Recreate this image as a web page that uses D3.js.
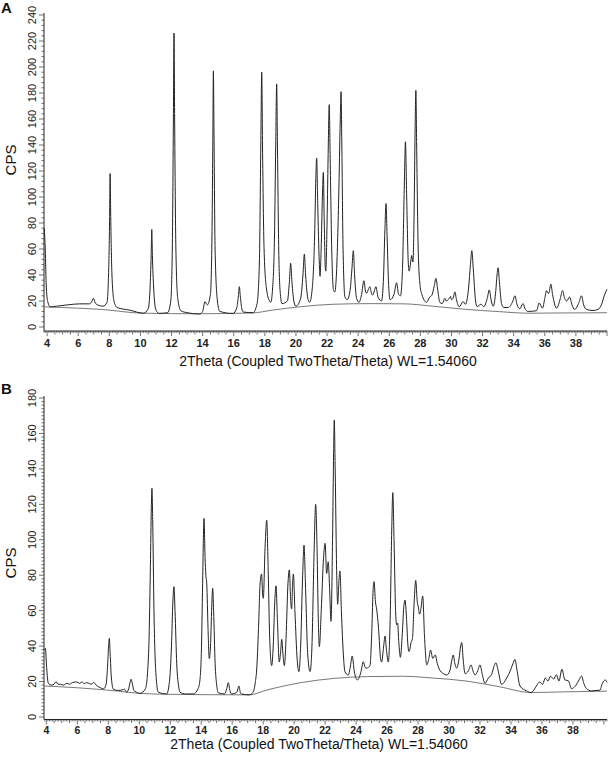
<!DOCTYPE html>
<html><head><meta charset="utf-8">
<script src="https://cdn.jsdelivr.net/npm/d3@7"></script>
<style>body{margin:0;background:#fff}svg{display:block}</style>
</head><body>
<svg id="c" width="609" height="758"></svg>
<script>
// ---------- data ----------
const xTicks = [4,6,8,10,12,14,16,18,20,22,24,26,28,30,32,34,36,38];
const yTicksA = [0,20,40,60,80,100,120,140,160,180,200,220,240];
const yTicksB = [0,20,40,60,80,100,120,140,160,180];
const xTitle = "2Theta (Coupled TwoTheta/Theta) WL=1.54060";

const patternA = [
[3.82,76],[3.88,60],[3.95,30],[4.05,19],[4.2,15.5],[4.6,16],[5.3,17],[6.1,17.8],[6.7,17.8],[6.85,19],[6.98,22],[7.1,18.5],[7.25,17],[7.6,16],[7.85,19],[7.95,40],[8.02,85],[8.05,118],[8.09,85],[8.17,40],[8.3,20],[8.5,15],[9.3,13],[10.2,10.6],[10.5,14],[10.62,30],[10.69,55],[10.73,75],[10.77,55],[10.85,30],[11.0,13],[11.2,10.5],[11.75,11],[11.95,20],[12.05,60],[12.12,160],[12.16,226],[12.2,160],[12.28,60],[12.4,22],[12.6,12.5],[13.0,11],[13.8,10],[14.0,12],[14.15,19.5],[14.3,17],[14.5,25],[14.6,70],[14.66,150],[14.69,197],[14.73,150],[14.8,60],[14.95,20],[15.1,12],[15.95,10.4],[16.2,15],[16.3,24],[16.36,31],[16.42,24],[16.52,14],[16.62,11.5],[17.24,11],[17.5,18],[17.65,50],[17.74,140],[17.8,196],[17.85,140],[17.95,60],[18.1,30],[18.3,20],[18.38,19],[18.5,30],[18.62,70],[18.7,140],[18.76,187],[18.81,140],[18.9,55],[19.0,25],[19.1,18],[19.45,20],[19.58,35],[19.66,49],[19.74,35],[19.88,19],[20.0,16],[20.3,22],[20.45,40],[20.54,56],[20.62,40],[20.78,21],[20.88,19],[21.05,30],[21.2,70],[21.28,115],[21.33,130],[21.4,95],[21.5,50],[21.55,39],[21.62,60],[21.7,100],[21.76,119],[21.82,80],[21.89,45],[21.92,43],[22.0,80],[22.08,140],[22.14,171],[22.2,130],[22.3,60],[22.42,28],[22.5,27],[22.6,40],[22.75,100],[22.85,160],[22.9,181],[22.95,140],[23.03,60],[23.15,23],[23.3,21],[23.5,30],[23.6,45],[23.69,58.7],[23.77,40],[23.9,22],[24.05,19],[24.22,25],[24.37,35.6],[24.48,27],[24.55,26],[24.66,29],[24.76,31],[24.85,26],[24.93,24.5],[25.05,28],[25.14,31],[25.28,23],[25.5,20],[25.62,35],[25.72,75],[25.79,95],[25.86,70],[25.96,32],[26.05,21],[26.3,25],[26.47,34],[26.6,25],[26.72,24],[26.85,45],[26.97,110],[27.04,142.5],[27.12,100],[27.22,50],[27.28,43],[27.4,52],[27.44,55],[27.52,50],[27.6,90],[27.66,150],[27.71,182],[27.76,140],[27.86,60],[27.98,32],[28.1,25],[28.4,19],[28.6,23],[28.72,24],[28.9,32],[29.0,37.4],[29.1,30],[29.25,19],[29.4,18],[29.58,22],[29.67,20],[29.75,20.5],[29.85,22],[29.94,23.5],[30.0,21],[30.1,22],[30.22,27],[30.32,21],[30.5,15.5],[30.75,19.5],[30.9,17.5],[31.1,30],[31.22,48],[31.31,58.7],[31.4,45],[31.55,20],[31.65,15.7],[31.89,17.5],[32.08,15.7],[32.3,22],[32.43,28.5],[32.56,20],[32.69,16],[32.85,28],[32.93,40],[33.0,45.6],[33.08,35],[33.22,18],[33.37,15],[33.65,15],[33.95,20],[34.08,24],[34.22,17],[34.4,14],[34.6,18],[34.75,13.5],[34.93,12],[35.47,12.5],[35.64,18.5],[35.85,14.5],[36.0,22],[36.11,28],[36.2,26],[36.26,26],[36.39,33],[36.5,25],[36.76,14.5],[37.0,22],[37.14,28],[37.28,22],[37.4,20],[37.6,23],[37.75,17],[37.92,13.5],[38.2,19],[38.36,24],[38.5,17],[38.68,13.5],[39.1,12.7],[39.42,13.5],[39.64,17],[39.85,25],[40.0,29]
];
const backgroundA = [
[3.85,15.5],[5,15],[7.5,13.5],[10.2,10.6],[13.8,10.2],[17.2,10.8],[18.5,13],[20.3,15.6],[22.4,17.5],[25,18],[27,17.8],[28.8,16],[30.9,13.6],[33.1,11.8],[34.93,10.6],[37,10.8],[39.1,10.9],[40,11]
];
const patternB = [
[3.85,37.8],[3.94,38.7],[4.02,28],[4.13,19],[4.35,18],[4.5,18.5],[4.63,20],[4.75,18.5],[4.9,18.5],[5.1,18],[5.32,19],[5.5,18.5],[5.7,19.5],[5.96,19.8],[6.15,19],[6.3,19.8],[6.45,18.8],[6.6,19.4],[6.8,18.8],[6.93,18.5],[7.05,19.5],[7.25,17.7],[7.5,16.5],[7.68,15.8],[7.85,18],[7.95,28],[8.02,40],[8.07,44.4],[8.12,36],[8.2,22],[8.33,15.7],[8.6,15],[8.97,15.4],[9.03,15.8],[9.18,14],[9.32,16],[9.42,20],[9.47,21.3],[9.55,19],[9.65,15],[9.73,14.5],[10.05,13.3],[10.4,16],[10.6,35],[10.72,85],[10.78,118],[10.82,129],[10.87,110],[10.95,60],[11.07,25],[11.23,14],[11.77,13],[11.95,20],[12.08,40],[12.17,65],[12.24,73.5],[12.31,60],[12.42,30],[12.55,17],[12.63,14],[13.0,13],[13.49,13],[13.8,16],[13.92,21],[14.02,40],[14.1,80],[14.18,112],[14.25,90],[14.3,80],[14.36,75],[14.44,50],[14.52,33],[14.6,40],[14.68,62],[14.74,72.6],[14.8,60],[14.9,30],[15.0,18],[15.1,13.7],[15.5,13],[15.65,16],[15.75,19.4],[15.85,15],[15.97,13],[16.3,14],[16.44,17.5],[16.52,14],[16.6,13],[17.1,12.5],[17.35,14],[17.5,20],[17.58,26.5],[17.7,50],[17.8,75],[17.9,80.7],[17.96,70],[18.01,67],[18.12,95],[18.23,111],[18.32,85],[18.42,45],[18.55,29],[18.65,40],[18.75,65],[18.83,74],[18.92,55],[19.04,31],[19.12,36],[19.2,43.8],[19.28,35],[19.37,29],[19.48,45],[19.6,75],[19.69,83],[19.78,65],[19.84,61],[19.9,75],[19.95,80.7],[20.05,60],[20.2,32],[20.31,25.6],[20.42,40],[20.55,80],[20.64,97],[20.73,75],[20.88,35],[21.03,25.6],[21.15,40],[21.28,90],[21.39,120],[21.48,95],[21.56,55],[21.63,39.7],[21.75,60],[21.9,90],[22.0,98],[22.1,81],[22.2,87.6],[22.3,70],[22.38,54],[22.48,100],[22.55,150],[22.59,167.6],[22.65,140],[22.75,80],[22.81,63.6],[22.9,78],[22.96,82.4],[23.05,60],[23.18,35],[23.28,25.6],[23.5,23.7],[23.62,28],[23.75,34.4],[23.88,26],[24.08,20.9],[24.3,25],[24.47,31.2],[24.58,28],[24.68,27.6],[24.8,28],[24.9,29],[25.02,50],[25.1,72],[25.16,76.4],[25.25,65],[25.33,60.8],[25.45,50],[25.58,33],[25.65,31],[25.78,40],[25.87,45.7],[25.96,38],[26.08,31],[26.2,55],[26.3,105],[26.37,126.6],[26.45,100],[26.55,60],[26.62,52],[26.68,53],[26.76,42],[26.86,33.7],[26.97,45],[27.08,62],[27.16,66],[27.26,55],[27.35,40],[27.42,36.9],[27.55,42],[27.64,44.4],[27.75,65],[27.85,77],[27.95,65],[28.02,62],[28.1,58],[28.2,62],[28.3,68.3],[28.42,45],[28.56,29.4],[28.7,33],[28.81,37.8],[28.95,33],[29.11,35],[29.25,30],[29.37,27],[29.63,24.5],[29.85,23.7],[30.05,26],[30.18,32],[30.27,35],[30.38,30],[30.49,27.6],[30.65,33],[30.75,40],[30.82,42],[30.92,32],[31.03,24.5],[31.25,26],[31.42,29.4],[31.55,26],[31.68,23.7],[31.85,26],[32.0,29.4],[32.15,24],[32.32,19],[32.54,22],[32.75,24],[32.92,29],[33.03,30.6],[33.15,27],[33.4,18.4],[33.72,22],[33.95,26],[34.12,30],[34.26,32.5],[34.38,27],[34.58,17.5],[35.01,14.7],[35.29,13.8],[35.5,15.5],[35.64,17.5],[35.86,19.8],[36.03,18.4],[36.22,22],[36.39,20.3],[36.55,23],[36.76,21.4],[36.93,23.9],[37.1,20.3],[37.29,27],[37.48,20.9],[37.7,20.5],[37.91,16],[38.2,18],[38.4,21],[38.56,23.1],[38.7,19],[38.88,16],[39.2,14.7],[39.5,15],[39.74,15.1],[39.9,19],[40.1,20.9],[40.2,19.5]
];
const backgroundB = [
[3.9,17.5],[6,16.5],[8.54,14.7],[10.05,13.3],[12,12.8],[17.1,12.5],[18.23,15.2],[20.45,19.4],[22.6,21.8],[24.75,22.8],[27,23],[28.95,22],[31.1,20.3],[33.25,17.1],[35.29,13.8],[37.5,14.2],[39.5,14.5],[40.2,14.6]
];

// ---------- drawing ----------
const svg = d3.select("#c");
const FONT = "Liberation Sans, Arial, sans-serif";

function panel(cfg){
  const g = svg.append("g");
  const x = d3.scaleLinear().domain(cfg.xDomain).range([44, 607]);
  const y = d3.scaleLinear().domain([0, cfg.yMax]).range([cfg.y0, cfg.yTop]);
  const axisY = cfg.axisY;

  // x axis
  g.append("line").attr("x1",44).attr("x2",607).attr("y1",axisY).attr("y2",axisY)
    .attr("stroke","#222").attr("stroke-width",1);
  const fine = d3.range(Math.ceil(cfg.xDomain[0]*10), Math.floor(cfg.xDomain[1]*10)+1).map(d=>d/10);
  g.selectAll(null).data(fine).enter().append("line")
    .attr("x1",d=>x(d)).attr("x2",d=>x(d)).attr("y1",axisY)
    .attr("y2",d=> (Math.abs(d%2)<1e-6 ? axisY+5 : (Math.abs((d*2)%1)<1e-6 ? axisY+3.5 : axisY+1.8)))
    .attr("stroke","#333").attr("stroke-width",0.7);
  g.selectAll(null).data(xTicks).enter().append("text")
    .attr("x",d=>x(d)).attr("y",axisY+cfg.tickDy).attr("text-anchor","middle")
    .attr("font-family",FONT).attr("font-size",cfg.tickFs).attr("font-weight","bold").attr("fill","#222")
    .text(d=>d);
  g.append("text").attr("x",cfg.titleX).attr("y",cfg.titleY).attr("text-anchor","middle")
    .attr("font-family",FONT).attr("font-size",14).attr("fill","#111").text(xTitle);

  // y axis
  g.append("line").attr("x1",44).attr("x2",44).attr("y1",axisY).attr("y2",cfg.yTop-2)
    .attr("stroke","#222").attr("stroke-width",1);
  const minor = d3.range(0, cfg.yMax+0.001, cfg.yMinor);
  g.selectAll(null).data(minor).enter().append("line")
    .attr("x1",d=> d%20===0 ? 39 : 41.5).attr("x2",44).attr("y1",d=>y(d)).attr("y2",d=>y(d))
    .attr("stroke","#333").attr("stroke-width",0.7);
  g.selectAll(null).data(cfg.yTicks).enter().append("text")
    .attr("transform",d=>`translate(35.5,${y(d)}) rotate(-90)`)
    .attr("text-anchor","middle")
    .attr("font-family",FONT).attr("font-size",11).attr("fill","#222")
    .text(d=>d);
  g.append("text").attr("transform",`translate(16,${cfg.cpsY}) rotate(-90)`)
    .attr("text-anchor","middle").attr("font-family",FONT).attr("font-size",15).attr("fill","#111").text("CPS");
  g.append("text").attr("x",1).attr("y",cfg.letterY).attr("font-family",FONT)
    .attr("font-size",15).attr("font-weight","bold").attr("fill","#111").text(cfg.letter);

  const line = d3.line().x(d=>x(d[0])).y(d=>y(d[1])).curve(d3.curveMonotoneX);
  g.append("path").datum(cfg.bg).attr("d",line).attr("fill","none")
    .attr("stroke","#555").attr("stroke-width",0.8);
  g.append("path").datum(cfg.data).attr("d",line).attr("fill","none")
    .attr("stroke","#222").attr("stroke-width",1);
}

panel({xDomain:[3.8,40], yMax:240, y0:327, yTop:15, axisY:331, yMinor:4, yTicks:yTicksA,
  tickDy:16, tickFs:11,
  titleX:328, titleY:366, cpsY:160, letter:"A", letterY:13, data:patternA, bg:backgroundA});
panel({xDomain:[3.85,40.2], yMax:180, y0:717, yTop:398, axisY:719.5, yMinor:2, yTicks:yTicksB,
  tickDy:14, tickFs:10.5,
  titleX:319, titleY:749, cpsY:563, letter:"B", letterY:394, data:patternB, bg:backgroundB});
</script>
</body></html>
